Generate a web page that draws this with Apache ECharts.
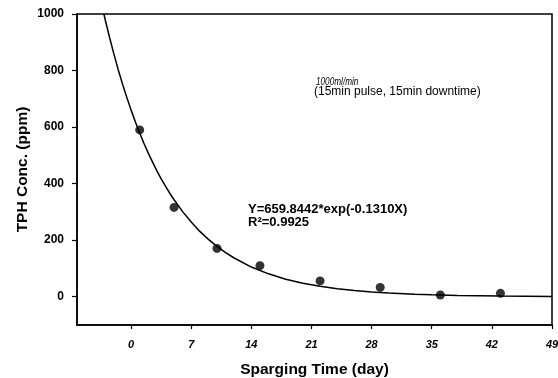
<!DOCTYPE html>
<html><head><meta charset="utf-8">
<script src="https://cdn.jsdelivr.net/npm/echarts@6/dist/echarts.min.js"></script>
<style>html,body{margin:0;padding:0;background:#fff}#c{width:558px;height:378px}</style>
</head><body><div id="c"></div>
<script>
// Measured data points (day, TPH ppm)
const obsDays = [1, 5, 10, 15, 22, 29, 36, 43];
const obsTPH = [590, 316, 171, 110, 56, 33, 6, 12];
// Fitted curve (day, ppm)
const fitDays = [-3.17, -3, -2.5, -2, -1.5, -1, -0.5, 0, 0.5, 1, 1.5, 2, 2.5, 3, 3.5, 4, 4.5, 5, 6, 7, 8, 9, 10, 11, 12, 14, 16, 18, 20, 22, 24, 26, 28, 30, 33, 35, 38, 43, 49];
const fitTPH = [1000, 978, 916, 858, 803, 752, 705, 660, 618, 579, 542, 508, 476, 445, 417, 391, 366, 343, 301, 264, 231, 203, 178, 156, 137, 105, 81, 62, 48, 37, 28, 22, 17, 13, 9, 6.7, 4.5, 2.4, 1.1];
const xTicks = [0, 7, 14, 21, 28, 35, 42, 49];
const yTicks = [0, 200, 400, 600, 800, 1000];
const xTitle = 'Sparging Time (day)';
const yTitle = 'TPH Conc. (ppm)';
const note1 = '1000ml/min';
const note2 = '(15min pulse, 15min downtime)';
const eq1 = 'Y=659.8442*exp(-0.1310X)';
const eq2 = 'R²=0.9925';

const chart = echarts.init(document.getElementById('c'));
const font = 'Liberation Sans, Arial, sans-serif';
chart.setOption({
  animation: false,
  backgroundColor: '#fff',
  grid: {left: 77, right: 6, top: 14, bottom: 53, containLabel: false, outerBoundsMode: 'none',
         show: true, borderColor: '#000', borderWidth: 1.5},
  xAxis: {
    type: 'value', min: -6.3, max: 49,
    axisLine: {show: true, onZero: false, lineStyle: {color: '#000', width: 1.5}},
    axisTick: {show: true, length: 4, customValues: xTicks, lineStyle: {color: '#000', width: 1.2}},
    axisLabel: {customValues: xTicks, color: '#000', fontFamily: font, fontSize: 11, fontWeight: 'bold', fontStyle: 'italic', margin: 14},
    splitLine: {show: false},
    name: xTitle, nameLocation: 'middle', nameGap: 37,
    nameTextStyle: {color: '#000', fontFamily: font, fontSize: 15.5, fontWeight: 'bold'}
  },
  yAxis: {
    type: 'value', min: -100, max: 1000,
    axisLine: {show: true, onZero: false, lineStyle: {color: '#000', width: 1.5}},
    axisTick: {show: true, length: 5, customValues: yTicks, lineStyle: {color: '#000', width: 1.2}},
    axisLabel: {customValues: yTicks, formatter: v => String(v), color: '#000', fontFamily: font, fontSize: 12, fontWeight: 'bold', margin: 13},
    splitLine: {show: false},
    name: yTitle, nameLocation: 'middle', nameGap: 46, nameRotate: 90, nameMoveOverlap: false,
    nameTextStyle: {color: '#000', fontFamily: font, fontSize: 15.5, fontWeight: 'bold'}
  },
  series: [
    {
      type: 'line', data: fitDays.map((d, i) => [d, fitTPH[i]]),
      showSymbol: false, smooth: false,
      lineStyle: {color: '#000', width: 1.5}, clip: true, z: 2
    },
    {
      type: 'scatter', data: obsDays.map((d, i) => [d, obsTPH[i]]),
      symbol: 'circle', symbolSize: 9,
      itemStyle: {color: '#000'}, z: 3
    }
  ],
  graphic: [
    {type: 'text', x: 316, y: 77, scaleX: 0.82, style: {text: note1, fill: '#000', font: 'italic 10px ' + font}},
    {type: 'text', left: 314, top: 86, style: {text: note2, fill: '#000', font: '12px ' + font}},
    {type: 'text', left: 248, top: 203, style: {text: eq1, fill: '#000', font: 'bold 13px ' + font}},
    {type: 'text', left: 248, top: 216, style: {text: eq2, fill: '#000', font: 'bold 13px ' + font}}
  ]
});
</script></body></html>
